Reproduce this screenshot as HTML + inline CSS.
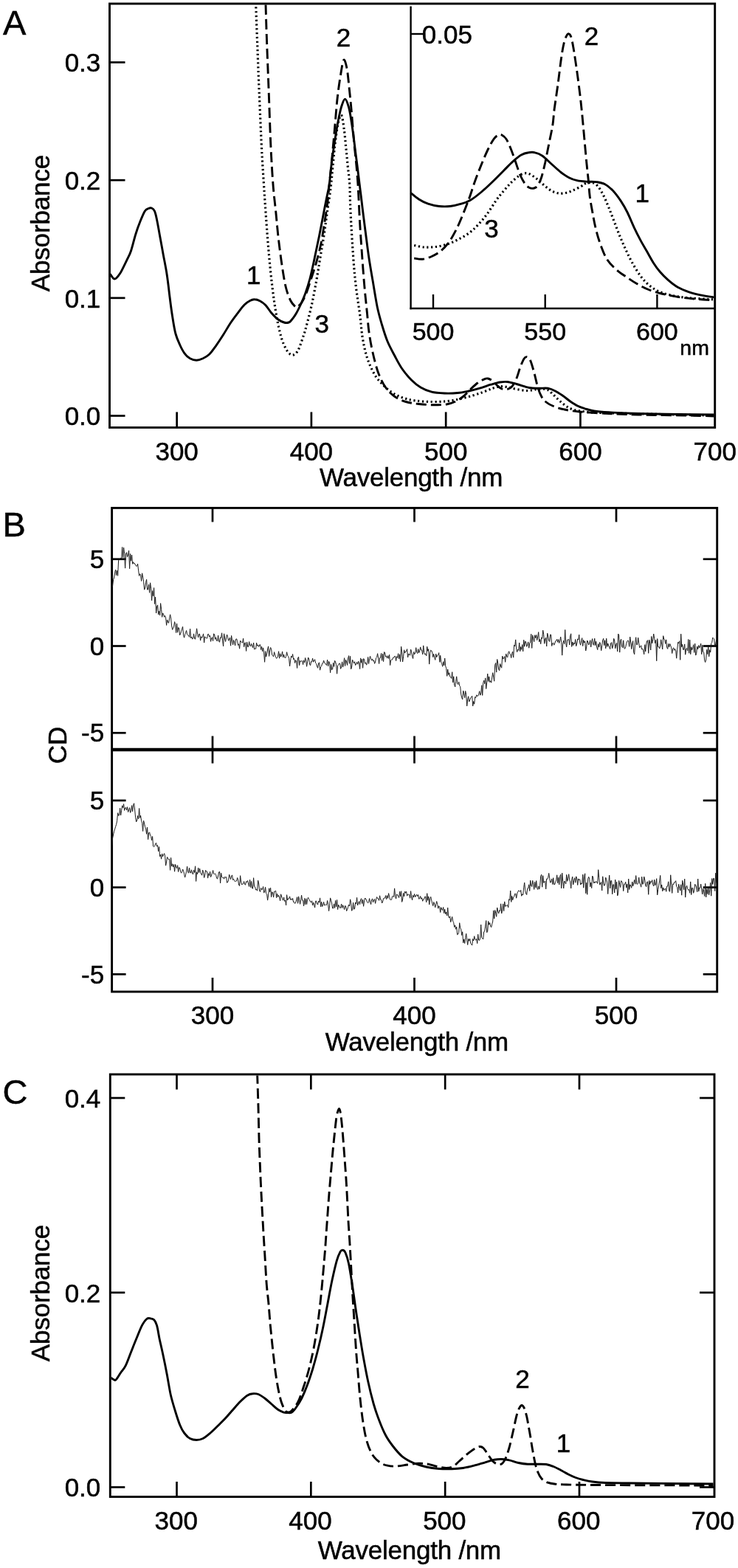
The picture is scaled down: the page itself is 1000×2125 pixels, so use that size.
<!DOCTYPE html>
<html lang="en"><head><meta charset="utf-8"><title>Figure</title>
<style>html,body{margin:0;padding:0;background:#fff}svg{display:block}</style></head>
<body>
<svg width="1000" height="2125" viewBox="0 0 1000 2125" font-family="Liberation Sans, Arial, sans-serif" fill="#000" stroke="none">
<rect width="1000" height="2125" fill="#fff"/>
<g stroke="#000" stroke-linecap="butt">
<rect x="148.5" y="5.0" width="820.2" height="574.4" fill="none" stroke-width="2.9"/>
<line x1="148.5" y1="563.5" x2="169.5" y2="563.5" stroke-width="2.7" />
<line x1="148.5" y1="403.8333333333333" x2="169.5" y2="403.8333333333333" stroke-width="2.7" />
<line x1="148.5" y1="244.16666666666663" x2="169.5" y2="244.16666666666663" stroke-width="2.7" />
<line x1="148.5" y1="84.5" x2="169.5" y2="84.5" stroke-width="2.7" />
<line x1="239.63333333333333" y1="579.4" x2="239.63333333333333" y2="558.4" stroke-width="2.7" />
<line x1="421.9" y1="579.4" x2="421.9" y2="558.4" stroke-width="2.7" />
<line x1="604.1666666666667" y1="579.4" x2="604.1666666666667" y2="558.4" stroke-width="2.7" />
<line x1="786.4333333333333" y1="579.4" x2="786.4333333333333" y2="558.4" stroke-width="2.7" />
<line x1="556.6" y1="8.4" x2="556.6" y2="419.2" stroke-width="2.4" />
<line x1="555.4" y1="418.0" x2="968.7" y2="418.0" stroke-width="2.4" />
<line x1="556.6" y1="46" x2="573.6" y2="46" stroke-width="2.4" />
<line x1="587.0" y1="418.0" x2="587.0" y2="399.0" stroke-width="2.4" />
<line x1="738.7" y1="418.0" x2="738.7" y2="399.0" stroke-width="2.4" />
<line x1="890.4" y1="418.0" x2="890.4" y2="399.0" stroke-width="2.4" />
</g>
<text x="4" y="46.5" font-size="47" text-anchor="start" stroke="#000" stroke-width="0.5" >A</text>
<text x="136.3" y="576.2" font-size="35" text-anchor="end" stroke="#000" stroke-width="0.5" >0.0</text>
<text x="136.3" y="416.5333333333333" font-size="35" text-anchor="end" stroke="#000" stroke-width="0.5" >0.1</text>
<text x="136.3" y="256.8666666666666" font-size="35" text-anchor="end" stroke="#000" stroke-width="0.5" >0.2</text>
<text x="136.3" y="97.2" font-size="35" text-anchor="end" stroke="#000" stroke-width="0.5" >0.3</text>
<text x="239.63333333333333" y="624" font-size="35" text-anchor="middle" stroke="#000" stroke-width="0.5" >300</text>
<text x="421.9" y="624" font-size="35" text-anchor="middle" stroke="#000" stroke-width="0.5" >400</text>
<text x="604.1666666666667" y="624" font-size="35" text-anchor="middle" stroke="#000" stroke-width="0.5" >500</text>
<text x="786.4333333333333" y="624" font-size="35" text-anchor="middle" stroke="#000" stroke-width="0.5" >600</text>
<text x="968.7" y="624" font-size="35" text-anchor="middle" stroke="#000" stroke-width="0.5" >700</text>
<text x="557.2" y="659" font-size="35" text-anchor="middle" textLength="248.5" lengthAdjust="spacing" stroke="#000" stroke-width="0.5" >Wavelength /nm</text>
<text transform="translate(67,302.5) rotate(-90)" font-size="35" text-anchor="middle" textLength="185.6" lengthAdjust="spacing" stroke="#000" stroke-width="0.5">Absorbance</text>
<text x="571.8" y="58.8" font-size="35" text-anchor="start" stroke="#000" stroke-width="0.5" >0.05</text>
<text x="587.0" y="461" font-size="34" text-anchor="middle" stroke="#000" stroke-width="0.5" >500</text>
<text x="738.7" y="461" font-size="34" text-anchor="middle" stroke="#000" stroke-width="0.5" >550</text>
<text x="890.4" y="461" font-size="34" text-anchor="middle" stroke="#000" stroke-width="0.5" >600</text>
<text x="921.3" y="481.4" font-size="28.5" text-anchor="start" stroke="#000" stroke-width="0.5" >nm</text>
<text x="343.8" y="385" font-size="35" text-anchor="middle" stroke="#000" stroke-width="0.5" >1</text>
<text x="465.6" y="62.5" font-size="35" text-anchor="middle" stroke="#000" stroke-width="0.5" >2</text>
<text x="436.3" y="451.3" font-size="35" text-anchor="middle" stroke="#000" stroke-width="0.5" >3</text>
<text x="870.2" y="273.7" font-size="35" text-anchor="middle" stroke="#000" stroke-width="0.5" >1</text>
<text x="801.5" y="60.8" font-size="35" text-anchor="middle" stroke="#000" stroke-width="0.5" >2</text>
<text x="665.9" y="322" font-size="35" text-anchor="middle" stroke="#000" stroke-width="0.5" >3</text>
<g stroke="#000" stroke-linecap="butt">
<rect x="151.6" y="688.4" width="820.1" height="655.6" fill="none" stroke-width="2.9"/>
<line x1="151.6" y1="1016.0" x2="971.7" y2="1016.0" stroke-width="4.6" />
<line x1="151.6" y1="993.25" x2="170.6" y2="993.25" stroke-width="2.7" />
<line x1="971.7" y1="993.25" x2="952.7" y2="993.25" stroke-width="2.7" />
<line x1="151.6" y1="1320.35" x2="170.6" y2="1320.35" stroke-width="2.7" />
<line x1="971.7" y1="1320.35" x2="952.7" y2="1320.35" stroke-width="2.7" />
<line x1="151.6" y1="875.5" x2="170.6" y2="875.5" stroke-width="2.7" />
<line x1="971.7" y1="875.5" x2="952.7" y2="875.5" stroke-width="2.7" />
<line x1="151.6" y1="1202.6" x2="170.6" y2="1202.6" stroke-width="2.7" />
<line x1="971.7" y1="1202.6" x2="952.7" y2="1202.6" stroke-width="2.7" />
<line x1="151.6" y1="757.75" x2="170.6" y2="757.75" stroke-width="2.7" />
<line x1="971.7" y1="757.75" x2="952.7" y2="757.75" stroke-width="2.7" />
<line x1="151.6" y1="1084.85" x2="170.6" y2="1084.85" stroke-width="2.7" />
<line x1="971.7" y1="1084.85" x2="952.7" y2="1084.85" stroke-width="2.7" />
<line x1="288.0" y1="688.4" x2="288.0" y2="707.4" stroke-width="2.7" />
<line x1="288.0" y1="997.5" x2="288.0" y2="1034.5" stroke-width="2.7" />
<line x1="288.0" y1="1344.0" x2="288.0" y2="1325.0" stroke-width="2.7" />
<line x1="561.5" y1="688.4" x2="561.5" y2="707.4" stroke-width="2.7" />
<line x1="561.5" y1="997.5" x2="561.5" y2="1034.5" stroke-width="2.7" />
<line x1="561.5" y1="1344.0" x2="561.5" y2="1325.0" stroke-width="2.7" />
<line x1="835.0" y1="688.4" x2="835.0" y2="707.4" stroke-width="2.7" />
<line x1="835.0" y1="997.5" x2="835.0" y2="1034.5" stroke-width="2.7" />
<line x1="835.0" y1="1344.0" x2="835.0" y2="1325.0" stroke-width="2.7" />
</g>
<text x="3.5" y="726.5" font-size="47" text-anchor="start" stroke="#000" stroke-width="0.5" >B</text>
<text x="141.2" y="769.95" font-size="35" text-anchor="end" stroke="#000" stroke-width="0.5" >5</text>
<text x="141.2" y="887.7" font-size="35" text-anchor="end" stroke="#000" stroke-width="0.5" >0</text>
<text x="141.2" y="1005.45" font-size="35" text-anchor="end" stroke="#000" stroke-width="0.5" >-5</text>
<text x="141.2" y="1097.05" font-size="35" text-anchor="end" stroke="#000" stroke-width="0.5" >5</text>
<text x="141.2" y="1214.8" font-size="35" text-anchor="end" stroke="#000" stroke-width="0.5" >0</text>
<text x="141.2" y="1332.55" font-size="35" text-anchor="end" stroke="#000" stroke-width="0.5" >-5</text>
<text x="288.0" y="1387.5" font-size="35" text-anchor="middle" stroke="#000" stroke-width="0.5" >300</text>
<text x="561.5" y="1387.5" font-size="35" text-anchor="middle" stroke="#000" stroke-width="0.5" >400</text>
<text x="835.0" y="1387.5" font-size="35" text-anchor="middle" stroke="#000" stroke-width="0.5" >500</text>
<text x="565" y="1423.5" font-size="35" text-anchor="middle" textLength="248.5" lengthAdjust="spacing" stroke="#000" stroke-width="0.5" >Wavelength /nm</text>
<text transform="translate(90,1010) rotate(-90)" font-size="35" text-anchor="middle" stroke="#000" stroke-width="0.5">CD</text>
<g stroke="#000" stroke-linecap="butt">
<rect x="149.3" y="1456.0" width="818.7" height="572.5" fill="none" stroke-width="2.9"/>
<line x1="149.3" y1="2015.5" x2="169.3" y2="2015.5" stroke-width="2.7" />
<line x1="968.0" y1="2015.5" x2="948.0" y2="2015.5" stroke-width="2.7" />
<line x1="149.3" y1="1751.75" x2="169.3" y2="1751.75" stroke-width="2.7" />
<line x1="968.0" y1="1751.75" x2="948.0" y2="1751.75" stroke-width="2.7" />
<line x1="149.3" y1="1488.0" x2="169.3" y2="1488.0" stroke-width="2.7" />
<line x1="968.0" y1="1488.0" x2="948.0" y2="1488.0" stroke-width="2.7" />
<line x1="239.5" y1="2028.5" x2="239.5" y2="2008.0" stroke-width="2.7" />
<line x1="239.5" y1="1456.0" x2="239.5" y2="1476.5" stroke-width="2.7" />
<line x1="421.33000000000004" y1="2028.5" x2="421.33000000000004" y2="2008.0" stroke-width="2.7" />
<line x1="421.33000000000004" y1="1456.0" x2="421.33000000000004" y2="1476.5" stroke-width="2.7" />
<line x1="603.1600000000001" y1="2028.5" x2="603.1600000000001" y2="2008.0" stroke-width="2.7" />
<line x1="603.1600000000001" y1="1456.0" x2="603.1600000000001" y2="1476.5" stroke-width="2.7" />
<line x1="784.99" y1="2028.5" x2="784.99" y2="2008.0" stroke-width="2.7" />
<line x1="784.99" y1="1456.0" x2="784.99" y2="1476.5" stroke-width="2.7" />
</g>
<text x="3.5" y="1495.5" font-size="47" text-anchor="start" stroke="#000" stroke-width="0.5" >C</text>
<text x="136.3" y="2028.4" font-size="35" text-anchor="end" stroke="#000" stroke-width="0.5" >0.0</text>
<text x="136.3" y="1764.65" font-size="35" text-anchor="end" stroke="#000" stroke-width="0.5" >0.2</text>
<text x="136.3" y="1500.9" font-size="35" text-anchor="end" stroke="#000" stroke-width="0.5" >0.4</text>
<text x="238.7" y="2072.7" font-size="35" text-anchor="middle" stroke="#000" stroke-width="0.5" >300</text>
<text x="420.53000000000003" y="2072.7" font-size="35" text-anchor="middle" stroke="#000" stroke-width="0.5" >400</text>
<text x="602.3600000000001" y="2072.7" font-size="35" text-anchor="middle" stroke="#000" stroke-width="0.5" >500</text>
<text x="784.19" y="2072.7" font-size="35" text-anchor="middle" stroke="#000" stroke-width="0.5" >600</text>
<text x="966.0200000000001" y="2072.7" font-size="35" text-anchor="middle" stroke="#000" stroke-width="0.5" >700</text>
<text x="555" y="2112.8" font-size="35" text-anchor="middle" textLength="248.5" lengthAdjust="spacing" stroke="#000" stroke-width="0.5" >Wavelength /nm</text>
<text transform="translate(67,1752.5) rotate(-90)" font-size="35" text-anchor="middle" textLength="185.6" lengthAdjust="spacing" stroke="#000" stroke-width="0.5">Absorbance</text>
<text x="707.9" y="1880.5" font-size="35" text-anchor="middle" stroke="#000" stroke-width="0.5" >2</text>
<text x="763.5" y="1968" font-size="35" text-anchor="middle" stroke="#000" stroke-width="0.5" >1</text>
<defs><clipPath id="ca"><rect x="150" y="6.5" width="817.5" height="571.5"/></clipPath></defs>
<g clip-path="url(#ca)">
<path d="M346.7,6.0C347.0,15.4 348.0,42.7 348.8,62.5C349.5,82.3 350.3,102.1 351.2,125.0C352.2,147.9 353.5,179.2 354.5,200.0C355.5,220.8 356.6,235.4 357.5,250.0C358.4,264.6 359.0,272.9 360.0,287.5C361.0,302.1 362.3,320.8 363.8,337.5C365.2,354.2 366.9,372.1 368.8,387.5C370.6,402.9 372.9,418.3 375.0,430.0C377.1,441.7 379.0,450.0 381.2,457.5C383.5,465.0 386.2,471.0 388.8,475.0C391.2,479.0 393.8,481.2 396.2,481.2C398.8,481.2 401.2,479.4 403.8,475.0C406.2,470.6 409.4,460.4 411.2,455.0C413.1,449.6 413.1,449.6 415.0,442.5C416.9,435.4 420.2,422.9 422.5,412.5C424.8,402.1 426.9,390.4 428.8,380.0C430.6,369.6 432.1,360.0 433.8,350.0C435.4,340.0 437.2,330.0 438.8,320.0C440.3,310.0 441.5,300.8 443.0,290.0C444.5,279.2 446.7,265.8 448.0,255.0C449.3,244.2 450.0,235.0 451.0,225.0C452.0,215.0 452.8,204.5 454.0,195.0C455.2,185.5 456.6,174.5 458.0,168.0C459.4,161.5 461.1,154.8 462.5,156.0C463.9,157.2 465.2,167.7 466.2,175.0C467.3,182.3 467.9,191.7 468.8,200.0C469.6,208.3 470.4,216.7 471.2,225.0C472.1,233.3 473.1,239.6 473.8,250.0C474.4,260.4 474.2,270.8 475.0,287.5C475.8,304.2 477.5,332.9 478.8,350.0C480.0,367.1 481.0,377.5 482.5,390.0C484.0,402.5 486.0,413.8 487.5,425.0C489.0,436.2 489.6,447.5 491.2,457.5C492.9,467.5 494.8,476.7 497.5,485.0C500.2,493.3 504.2,501.7 507.5,507.5C510.8,513.3 513.8,516.0 517.5,520.0C521.2,524.0 525.4,528.1 530.0,531.2C534.6,534.4 539.6,536.8 545.0,538.8C550.4,540.7 555.8,542.0 562.5,543.0C569.2,544.0 577.9,544.4 585.0,544.5C592.1,544.6 598.8,544.4 605.0,543.8C611.2,543.1 616.7,542.0 622.5,540.8C628.3,539.5 634.6,537.8 640.0,536.2C645.4,534.7 650.4,532.9 655.0,531.2C659.6,529.6 663.8,527.5 667.5,526.2C671.2,525.0 674.2,524.0 677.5,523.8C680.8,523.5 683.8,523.9 687.5,524.5C691.2,525.1 695.4,526.7 700.0,527.5C704.6,528.3 710.4,529.5 715.0,529.5C719.6,529.5 723.3,527.8 727.5,527.5C731.7,527.2 736.7,526.7 740.0,527.5C743.3,528.3 744.8,530.2 747.5,532.5C750.2,534.8 753.3,538.5 756.2,541.2C759.2,544.0 761.9,546.5 765.0,548.8C768.1,551.0 770.8,553.0 775.0,554.5C779.2,556.0 783.3,556.7 790.0,557.5C796.7,558.3 790.0,558.7 815.0,559.5C840.0,560.3 914.4,561.9 940.0,562.5C965.6,563.1 963.9,562.9 968.7,563.0" fill="none" stroke="#000" stroke-width="3.2" stroke-dasharray="2.2 3.58" stroke-linejoin="round" stroke-dashoffset="2.4"/>
<path d="M360.0,6.0C360.3,15.4 361.0,42.7 361.8,62.5C362.5,82.3 363.4,102.1 364.2,125.0C365.1,147.9 366.0,179.2 367.0,200.0C368.0,220.8 368.9,235.4 370.0,250.0C371.1,264.6 372.5,275.0 373.8,287.5C375.0,300.0 376.0,312.5 377.5,325.0C379.0,337.5 380.8,351.7 382.5,362.5C384.2,373.3 385.6,382.5 387.5,390.0C389.4,397.5 391.7,403.2 393.8,407.5C395.8,411.8 398.5,414.1 400.0,415.5C401.5,416.9 401.0,416.9 402.5,416.0C404.0,415.1 406.7,413.1 408.8,410.0C410.8,406.9 412.7,403.3 415.0,397.5C417.3,391.7 420.2,382.1 422.5,375.0C424.8,367.9 426.7,362.5 428.8,355.0C430.8,347.5 433.1,339.2 435.0,330.0C436.9,320.8 438.5,309.2 440.0,300.0C441.5,290.8 442.7,283.3 443.8,275.0C444.8,266.7 445.0,262.5 446.2,250.0C447.5,237.5 449.9,214.6 451.2,200.0C452.6,185.4 453.5,174.2 454.5,162.5C455.5,150.8 456.3,140.4 457.5,130.0C458.7,119.6 460.4,108.1 461.8,100.0C463.1,91.9 464.4,82.5 465.8,81.2C467.1,80.0 468.8,86.5 470.0,92.5C471.2,98.5 472.0,107.9 473.0,117.5C474.0,127.1 475.2,137.9 476.2,150.0C477.3,162.1 478.4,177.5 479.5,190.0C480.6,202.5 482.1,215.0 483.0,225.0C483.9,235.0 484.2,237.5 485.0,250.0C485.8,262.5 486.7,285.4 487.5,300.0C488.3,314.6 489.0,322.9 490.0,337.5C491.0,352.1 492.5,372.9 493.8,387.5C495.0,402.1 496.5,414.6 497.5,425.0C498.5,435.4 498.8,441.2 500.0,450.0C501.2,458.8 502.9,468.3 505.0,477.5C507.1,486.7 509.6,497.1 512.5,505.0C515.4,512.9 518.8,519.6 522.5,525.0C526.2,530.4 530.4,534.2 535.0,537.5C539.6,540.8 544.6,542.8 550.0,544.5C555.4,546.2 561.2,546.8 567.5,547.5C573.8,548.2 581.2,548.7 587.5,548.8C593.8,548.8 600.2,548.7 605.0,548.0C609.8,547.3 612.5,546.2 616.2,544.5C620.0,542.8 624.0,540.3 627.5,537.5C631.0,534.7 634.2,530.6 637.5,527.5C640.8,524.4 644.4,521.0 647.5,518.8C650.6,516.5 654.0,514.7 656.2,513.8C658.5,512.8 659.4,512.6 661.2,513.0C663.1,513.4 665.4,514.7 667.5,516.2C669.6,517.8 671.7,520.7 673.8,522.5C675.8,524.3 677.7,526.2 680.0,527.0C682.3,527.8 685.2,528.0 687.5,527.5C689.8,527.0 691.7,526.2 693.8,523.8C695.8,521.2 698.1,516.9 700.0,512.5C701.9,508.1 703.3,501.9 705.0,497.5C706.7,493.1 708.5,488.5 710.0,486.2C711.5,484.0 712.8,483.3 714.2,483.8C715.7,484.2 717.2,485.2 718.8,488.8C720.3,492.3 722.1,499.0 723.8,505.0C725.4,511.0 727.1,519.6 728.8,525.0C730.4,530.4 731.9,534.2 733.8,537.5C735.6,540.8 737.3,542.8 740.0,545.0C742.7,547.2 745.8,548.8 750.0,550.5C754.2,552.2 759.2,553.8 765.0,555.0C770.8,556.2 776.7,557.2 785.0,558.0C793.3,558.8 801.7,559.3 815.0,560.0C828.3,560.7 844.2,561.5 865.0,562.0C885.8,562.5 922.7,562.9 940.0,563.2C957.3,563.6 963.9,563.9 968.7,564.0" fill="none" stroke="#000" stroke-width="2.9" stroke-dasharray="14 6" stroke-linejoin="round" />
<path d="M148.5,371.0C148.8,371.2 149.1,371.4 150.0,372.5C150.9,373.6 152.5,376.8 153.8,377.5C155.0,378.2 155.8,378.5 157.5,377.0C159.2,375.5 161.2,373.0 163.8,368.8C166.2,364.5 170.2,356.0 172.5,351.2C174.8,346.5 175.6,345.6 177.5,340.0C179.4,334.4 181.7,324.2 183.8,317.5C185.8,310.8 187.9,305.2 190.0,300.0C192.1,294.8 194.4,289.2 196.2,286.2C198.1,283.3 199.7,283.2 201.2,282.5C202.8,281.8 204.1,281.4 205.5,282.0C206.9,282.6 208.3,283.7 209.5,286.2C210.7,288.8 211.4,292.3 212.5,297.5C213.6,302.7 214.8,309.6 216.2,317.5C217.7,325.4 219.6,335.8 221.2,345.0C222.9,354.2 224.8,362.9 226.2,372.5C227.7,382.1 228.8,392.9 230.0,402.5C231.2,412.1 232.4,421.7 233.8,430.0C235.1,438.3 236.3,446.2 238.0,452.5C239.7,458.8 241.8,463.1 243.8,467.5C245.8,471.9 247.7,475.7 250.0,478.8C252.3,481.8 254.8,484.2 257.5,485.8C260.2,487.3 263.3,488.2 266.2,488.2C269.2,488.2 272.1,487.1 275.0,485.8C277.9,484.4 280.8,482.8 283.8,480.0C286.7,477.2 289.4,473.1 292.5,468.8C295.6,464.4 299.2,459.0 302.5,453.8C305.8,448.5 309.2,442.5 312.5,437.5C315.8,432.5 319.4,427.8 322.5,423.8C325.6,419.7 328.5,415.7 331.2,413.0C334.0,410.3 336.5,408.7 338.8,407.5C341.0,406.3 342.7,405.7 345.0,405.8C347.3,405.8 350.0,406.7 352.5,408.0C355.0,409.3 357.5,411.1 360.0,413.8C362.5,416.4 364.8,420.6 367.5,423.8C370.2,426.9 373.3,430.3 376.2,432.5C379.2,434.7 382.5,436.2 385.0,437.0C387.5,437.8 389.6,437.5 391.2,437.0C392.9,436.5 393.3,435.8 395.0,433.8C396.7,431.8 399.2,428.5 401.2,425.0C403.3,421.5 405.4,417.1 407.5,412.5C409.6,407.9 411.7,403.3 413.8,397.5C415.8,391.7 417.9,385.4 420.0,377.5C422.1,369.6 424.2,359.6 426.2,350.0C428.3,340.4 430.4,330.4 432.5,320.0C434.6,309.6 436.9,297.1 438.8,287.5C440.6,277.9 442.5,268.8 443.8,262.5C445.0,256.2 445.3,257.1 446.2,250.0C447.2,242.9 448.2,230.0 449.5,220.0C450.8,210.0 452.3,199.2 453.8,190.0C455.2,180.8 456.5,172.5 458.0,165.0C459.5,157.5 460.9,150.1 462.5,145.0C464.1,139.9 465.8,134.2 467.5,134.2C469.2,134.2 471.0,139.9 472.5,145.0C474.0,150.1 475.0,157.1 476.2,165.0C477.5,172.9 478.8,182.9 480.0,192.5C481.2,202.1 482.5,212.9 483.8,222.5C485.0,232.1 486.0,240.0 487.2,250.0C488.5,260.0 490.0,272.1 491.2,282.5C492.5,292.9 493.5,301.2 495.0,312.5C496.5,323.8 498.3,338.8 500.0,350.0C501.7,361.2 503.1,369.0 505.0,380.0C506.9,391.0 509.2,406.0 511.2,416.0C513.3,426.0 515.2,432.2 517.5,440.0C519.8,447.8 522.1,455.4 525.0,462.5C527.9,469.6 531.7,476.2 535.0,482.5C538.3,488.8 541.2,494.6 545.0,500.0C548.8,505.4 553.3,510.8 557.5,515.0C561.7,519.2 565.4,522.3 570.0,525.0C574.6,527.7 579.6,529.9 585.0,531.2C590.4,532.6 596.7,532.8 602.5,533.0C608.3,533.2 614.6,533.0 620.0,532.5C625.4,532.0 630.0,531.0 635.0,530.0C640.0,529.0 645.0,527.7 650.0,526.2C655.0,524.8 660.4,522.6 665.0,521.2C669.6,519.9 673.8,518.6 677.5,518.0C681.2,517.4 683.8,517.1 687.5,517.5C691.2,517.9 695.0,519.2 700.0,520.5C705.0,521.8 712.5,524.5 717.5,525.5C722.5,526.5 725.8,526.1 730.0,526.2C734.2,526.4 738.8,525.6 742.5,526.2C746.2,526.9 749.2,528.3 752.5,530.0C755.8,531.7 759.2,534.0 762.5,536.2C765.8,538.5 769.2,541.5 772.5,543.8C775.8,546.0 779.2,548.3 782.5,550.0C785.8,551.7 788.8,552.6 792.5,553.8C796.2,554.9 799.6,556.2 805.0,557.0C810.4,557.8 815.0,558.2 825.0,558.8C835.0,559.3 845.8,560.0 865.0,560.5C884.2,561.0 922.7,561.5 940.0,561.8C957.3,562.0 963.9,562.0 968.7,562.0" fill="none" stroke="#000" stroke-width="2.9" stroke-linejoin="round" />
<path d="M561.2,332.5C563.5,332.9 570.2,334.7 575.0,335.0C579.8,335.3 585.0,335.1 590.0,334.5C595.0,333.9 600.0,332.8 605.0,331.2C610.0,329.7 615.0,327.5 620.0,325.0C625.0,322.5 630.4,319.6 635.0,316.2C639.6,312.9 643.3,309.4 647.5,305.0C651.7,300.6 655.8,295.6 660.0,290.0C664.2,284.4 668.8,276.5 672.5,271.2C676.2,266.0 679.2,262.7 682.5,258.8C685.8,254.8 689.2,250.8 692.5,247.5C695.8,244.2 699.6,240.8 702.5,238.8C705.4,236.7 707.5,235.5 710.0,235.0C712.5,234.5 714.6,234.5 717.5,235.8C720.4,237.0 724.2,239.9 727.5,242.5C730.8,245.1 734.2,248.5 737.5,251.2C740.8,254.0 744.2,257.0 747.5,258.8C750.8,260.5 754.2,261.6 757.5,262.0C760.8,262.4 764.2,262.0 767.5,261.2C770.8,260.5 774.2,259.0 777.5,257.5C780.8,256.0 784.9,253.9 787.5,252.5C790.1,251.1 790.6,249.7 793.0,248.8C795.4,247.9 799.0,246.8 801.8,247.3C804.5,247.8 806.9,248.9 809.5,251.7C812.1,254.4 814.6,258.9 817.2,263.8C819.8,268.8 822.3,275.2 824.9,281.4C827.5,287.6 830.0,294.6 832.6,301.2C835.2,307.8 837.7,314.8 840.3,321.0C842.9,327.2 845.2,332.7 848.0,338.6C850.8,344.5 853.5,350.3 856.8,356.2C860.1,362.1 864.1,368.9 867.8,373.8C871.5,378.8 874.8,382.4 878.8,385.9C882.8,389.4 886.9,392.3 892.0,394.7C897.1,397.1 903.0,398.7 909.6,400.2C916.2,401.7 921.8,402.5 931.6,403.5C941.5,404.5 962.5,405.6 968.7,406.0" fill="none" stroke="#000" stroke-width="3.2" stroke-dasharray="2.2 3.58" stroke-linejoin="round" />
<path d="M561.2,350.0C563.1,350.2 568.5,351.7 572.5,351.2C576.5,350.8 580.8,349.4 585.0,347.5C589.2,345.6 593.5,343.3 597.5,340.0C601.5,336.7 605.2,332.5 608.8,327.5C612.3,322.5 615.6,316.2 618.8,310.0C621.9,303.8 624.6,297.1 627.5,290.0C630.4,282.9 633.5,275.0 636.2,267.5C639.0,260.0 641.0,252.5 643.8,245.0C646.5,237.5 649.6,229.6 652.5,222.5C655.4,215.4 658.5,208.1 661.2,202.5C664.0,196.9 666.5,192.0 668.8,188.8C671.0,185.5 673.1,184.0 675.0,183.0C676.9,182.0 678.1,182.0 680.0,183.0C681.9,184.0 684.2,185.5 686.2,188.8C688.3,192.0 690.4,197.3 692.5,202.5C694.6,207.7 696.7,214.2 698.8,220.0C700.8,225.8 702.9,232.7 705.0,237.5C707.1,242.3 709.2,245.9 711.2,248.8C713.3,251.6 715.4,253.5 717.5,254.5C719.6,255.5 721.9,255.5 723.8,255.0C725.6,254.5 727.1,253.8 728.8,251.2C730.4,248.8 732.1,245.2 733.8,240.0C735.4,234.8 737.1,227.5 738.8,220.0C740.4,212.5 742.1,203.3 743.8,195.0C745.4,186.7 747.5,177.9 748.8,170.0C750.0,162.1 750.0,157.1 751.2,147.5C752.5,137.9 754.8,123.3 756.2,112.5C757.7,101.7 758.8,91.2 760.0,82.5C761.2,73.8 762.5,65.6 763.8,60.0C765.0,54.4 766.3,51.1 767.5,48.8C768.7,46.4 769.7,45.5 770.8,45.8C771.8,46.0 772.7,46.8 773.8,50.0C774.8,53.2 775.8,57.9 777.0,65.0C778.2,72.1 779.8,82.5 781.2,92.5C782.7,102.5 784.2,114.6 785.5,125.0C786.8,135.4 787.7,144.2 788.8,155.0C789.8,165.8 791.0,178.8 792.0,190.0C793.0,201.2 794.1,213.1 795.0,222.5C795.9,231.9 796.8,239.0 797.5,246.2C798.2,253.5 798.3,259.0 799.2,266.0C800.1,273.0 801.5,280.7 802.9,288.0C804.2,295.3 805.5,302.7 807.3,310.0C809.1,317.3 811.3,325.0 813.9,332.0C816.5,339.0 819.2,346.3 822.7,351.8C826.2,357.3 830.6,361.1 834.8,365.0C839.0,368.9 843.2,371.6 848.0,374.9C852.8,378.2 858.3,381.9 863.4,384.8C868.5,387.7 873.3,390.3 878.8,392.5C884.3,394.7 889.8,396.4 896.4,398.0C903.0,399.6 911.1,401.2 918.4,402.4C925.7,403.6 932.0,404.2 940.4,405.0C948.8,405.8 964.0,406.7 968.7,407.0" fill="none" stroke="#000" stroke-width="2.9" stroke-dasharray="14 6" stroke-linejoin="round" />
<path d="M556.6,261.5C558.4,262.9 563.6,267.5 567.5,270.0C571.4,272.5 575.4,274.7 580.0,276.2C584.6,277.8 590.0,279.0 595.0,279.5C600.0,280.0 605.0,280.0 610.0,279.5C615.0,279.0 620.4,277.6 625.0,276.2C629.6,274.9 632.9,274.0 637.5,271.2C642.1,268.5 647.5,264.2 652.5,260.0C657.5,255.8 662.5,251.0 667.5,246.2C672.5,241.5 677.9,235.8 682.5,231.2C687.1,226.7 691.0,222.3 695.0,218.8C699.0,215.2 702.7,212.0 706.2,210.0C709.8,208.0 713.1,207.3 716.2,206.8C719.4,206.2 721.9,206.0 725.0,206.8C728.1,207.5 731.2,208.6 735.0,211.2C738.8,213.9 743.3,218.8 747.5,222.5C751.7,226.2 756.1,230.5 760.0,233.5C763.9,236.5 767.3,238.8 771.0,240.7C774.7,242.6 778.0,243.8 782.0,244.7C786.0,245.6 790.8,245.9 795.2,246.2C799.6,246.5 804.4,246.0 808.4,246.6C812.4,247.2 815.7,247.6 819.4,249.5C823.1,251.4 826.7,254.5 830.4,258.3C834.1,262.2 838.1,267.7 841.4,272.6C844.7,277.6 847.3,282.1 850.2,288.0C853.1,293.9 856.1,301.6 859.0,307.8C861.9,314.0 864.9,319.9 867.8,325.4C870.7,330.9 873.7,335.7 876.6,340.8C879.5,345.9 882.5,351.6 885.4,356.2C888.3,360.8 890.9,364.4 894.2,368.3C897.5,372.2 901.2,375.8 905.2,379.3C909.2,382.8 913.6,386.4 918.4,389.2C923.2,391.9 928.7,394.0 933.8,395.8C938.9,397.6 943.4,398.6 949.2,399.8C955.0,401.0 965.5,402.5 968.7,403.0" fill="none" stroke="#000" stroke-width="2.9" stroke-linejoin="round" />
</g>
<defs><clipPath id="cc"><rect x="150.8" y="1457.5" width="815.7" height="569.5"/></clipPath><clipPath id="cb"><rect x="151.6" y="689.8" width="820.1" height="652.8"/></clipPath></defs>
<g clip-path="url(#cc)">
<path d="M348.6,1455.0C348.8,1462.5 349.6,1484.2 350.0,1500.0C350.4,1515.8 350.7,1533.3 351.2,1550.0C351.8,1566.7 352.5,1583.3 353.2,1600.0C354.0,1616.7 354.8,1633.3 355.8,1650.0C356.7,1666.7 357.8,1685.0 358.8,1700.0C359.7,1715.0 360.4,1729.2 361.2,1740.0C362.1,1750.8 362.9,1755.8 363.8,1765.0C364.6,1774.2 365.3,1784.6 366.2,1795.0C367.2,1805.4 368.4,1817.1 369.5,1827.5C370.6,1837.9 371.8,1848.3 373.0,1857.5C374.2,1866.7 375.6,1875.4 377.0,1882.5C378.4,1889.6 379.7,1895.2 381.2,1900.0C382.8,1904.8 384.8,1908.9 386.2,1911.2C387.7,1913.6 388.5,1913.9 390.0,1914.0C391.5,1914.1 392.7,1914.3 395.0,1912.0C397.3,1909.7 401.0,1905.3 403.8,1900.0C406.5,1894.7 408.8,1887.5 411.2,1880.0C413.8,1872.5 416.5,1863.8 418.8,1855.0C421.0,1846.2 423.1,1837.1 425.0,1827.5C426.9,1817.9 428.5,1807.5 430.0,1797.5C431.5,1787.5 432.6,1777.9 433.8,1767.5C434.9,1757.1 436.0,1746.2 437.0,1735.0C438.0,1723.8 439.2,1709.2 440.0,1700.0C440.8,1690.8 440.9,1688.8 441.5,1680.0C442.1,1671.2 443.0,1658.3 443.8,1647.5C444.5,1636.7 445.4,1625.4 446.2,1615.0C447.1,1604.6 447.9,1594.6 448.8,1585.0C449.6,1575.4 450.4,1566.2 451.2,1557.5C452.1,1548.8 452.9,1540.0 453.8,1532.5C454.6,1525.0 455.3,1517.5 456.2,1512.5C457.2,1507.5 458.5,1502.5 459.5,1502.5C460.5,1502.5 461.2,1506.7 462.0,1512.5C462.8,1518.3 463.7,1528.3 464.5,1537.5C465.3,1546.7 466.0,1557.9 466.8,1567.5C467.5,1577.1 468.1,1585.4 468.8,1595.0C469.4,1604.6 470.0,1615.0 470.5,1625.0C471.0,1635.0 471.5,1645.4 472.0,1655.0C472.5,1664.6 473.2,1672.9 473.8,1682.5C474.3,1692.1 474.9,1701.2 475.5,1712.5C476.1,1723.8 476.8,1737.1 477.5,1750.0C478.2,1762.9 479.2,1776.7 480.0,1790.0C480.8,1803.3 481.7,1818.3 482.5,1830.0C483.3,1841.7 484.2,1850.0 485.0,1860.0C485.8,1870.0 486.5,1879.6 487.5,1890.0C488.5,1900.4 489.8,1912.5 491.2,1922.5C492.7,1932.5 494.2,1942.1 496.2,1950.0C498.3,1957.9 500.8,1964.8 503.8,1970.0C506.7,1975.2 510.2,1978.5 513.8,1981.2C517.3,1984.0 521.0,1985.3 525.0,1986.2C529.0,1987.2 532.9,1987.2 537.5,1987.0C542.1,1986.8 547.5,1985.6 552.5,1985.0C557.5,1984.4 562.9,1983.4 567.5,1983.2C572.1,1983.1 575.8,1983.5 580.0,1984.2C584.2,1985.0 588.3,1986.6 592.5,1987.5C596.7,1988.4 601.5,1989.5 605.0,1989.5C608.5,1989.5 610.8,1989.1 613.8,1987.5C616.7,1985.9 619.4,1982.7 622.5,1980.0C625.6,1977.3 629.2,1974.0 632.5,1971.2C635.8,1968.5 639.6,1965.5 642.5,1963.8C645.4,1962.0 647.9,1960.7 650.0,1960.5C652.1,1960.3 653.1,1960.7 655.0,1962.5C656.9,1964.3 659.2,1968.3 661.2,1971.2C663.3,1974.2 665.4,1977.8 667.5,1980.0C669.6,1982.2 671.7,1983.6 673.8,1984.2C675.8,1984.9 678.1,1985.0 680.0,1983.8C681.9,1982.5 683.3,1980.1 685.0,1976.5C686.7,1972.9 688.3,1967.9 690.0,1962.0C691.7,1956.1 693.3,1948.2 695.0,1941.0C696.7,1933.8 698.5,1924.0 700.0,1918.5C701.5,1913.0 702.5,1910.3 703.8,1908.0C705.0,1905.7 706.1,1904.4 707.2,1904.5C708.3,1904.6 709.4,1906.2 710.5,1908.8C711.6,1911.3 712.6,1914.8 713.8,1920.0C714.9,1925.2 716.2,1932.9 717.5,1940.0C718.8,1947.1 720.0,1955.4 721.2,1962.5C722.5,1969.6 723.8,1977.1 725.0,1982.5C726.2,1987.9 727.3,1991.5 728.8,1995.0C730.2,1998.5 731.7,2001.5 733.8,2003.8C735.8,2006.0 738.1,2007.5 741.2,2008.8C744.4,2010.0 748.1,2010.7 752.5,2011.2C756.9,2011.8 758.8,2011.8 767.5,2012.0C776.2,2012.2 777.9,2012.3 805.0,2012.5C832.1,2012.7 902.8,2012.8 930.0,2013.0C957.2,2013.2 961.7,2013.4 968.0,2013.5" fill="none" stroke="#000" stroke-width="2.9" stroke-dasharray="14 6" stroke-linejoin="round" />
<path d="M149.3,1866.5C149.9,1866.9 151.7,1868.4 153.0,1869.0C154.3,1869.6 155.2,1871.5 157.0,1870.0C158.8,1868.5 161.6,1863.1 163.8,1860.0C165.9,1856.9 167.7,1855.8 170.0,1851.2C172.3,1846.7 175.0,1838.8 177.5,1832.5C180.0,1826.2 182.5,1819.8 185.0,1813.8C187.5,1807.7 190.2,1800.6 192.5,1796.2C194.8,1791.9 196.9,1789.1 198.8,1787.5C200.6,1785.9 202.1,1786.5 203.8,1786.8C205.4,1787.0 207.3,1787.2 208.8,1788.8C210.2,1790.3 211.2,1791.9 212.5,1796.2C213.8,1800.6 214.8,1808.1 216.2,1815.0C217.7,1821.9 219.6,1829.6 221.2,1837.5C222.9,1845.4 224.6,1853.8 226.2,1862.5C227.9,1871.2 229.4,1881.7 231.2,1890.0C233.1,1898.3 235.4,1905.6 237.5,1912.5C239.6,1919.4 241.7,1926.2 243.8,1931.2C245.8,1936.2 247.7,1939.5 250.0,1942.5C252.3,1945.5 254.8,1948.0 257.5,1949.5C260.2,1951.0 263.3,1951.5 266.2,1951.5C269.2,1951.5 271.9,1951.1 275.0,1949.5C278.1,1947.9 281.7,1944.8 285.0,1942.0C288.3,1939.2 291.7,1935.8 295.0,1932.5C298.3,1929.2 301.7,1926.0 305.0,1922.5C308.3,1919.0 311.7,1915.0 315.0,1911.2C318.3,1907.5 321.7,1903.3 325.0,1900.0C328.3,1896.7 332.1,1893.1 335.0,1891.2C337.9,1889.4 340.0,1889.0 342.5,1888.8C345.0,1888.5 347.3,1888.5 350.0,1889.5C352.7,1890.5 355.8,1892.8 358.8,1895.0C361.7,1897.2 364.6,1900.0 367.5,1902.5C370.4,1905.0 373.5,1908.1 376.2,1910.0C379.0,1911.9 381.7,1913.0 383.8,1913.8C385.8,1914.5 386.9,1914.4 388.8,1914.5C390.6,1914.6 392.9,1915.4 395.0,1914.2C397.1,1913.1 399.0,1910.7 401.2,1907.5C403.5,1904.3 406.2,1900.0 408.8,1895.0C411.2,1890.0 413.8,1884.2 416.2,1877.5C418.8,1870.8 421.2,1863.3 423.8,1855.0C426.2,1846.7 429.0,1836.7 431.2,1827.5C433.5,1818.3 435.4,1810.0 437.5,1800.0C439.6,1790.0 441.7,1778.3 443.8,1767.5C445.8,1756.7 447.9,1744.8 450.0,1735.0C452.1,1725.2 454.4,1715.2 456.2,1708.8C458.1,1702.3 459.9,1698.7 461.2,1696.2C462.6,1693.8 463.4,1694.0 464.5,1694.2C465.6,1694.5 466.7,1694.5 468.0,1697.5C469.3,1700.5 470.9,1705.0 472.5,1712.5C474.1,1720.0 475.8,1731.7 477.5,1742.5C479.2,1753.3 480.8,1766.2 482.5,1777.5C484.2,1788.8 485.8,1799.6 487.5,1810.0C489.2,1820.4 490.6,1829.6 492.5,1840.0C494.4,1850.4 496.5,1862.1 498.8,1872.5C501.0,1882.9 503.8,1893.8 506.2,1902.5C508.8,1911.2 511.0,1917.9 513.8,1925.0C516.5,1932.1 519.4,1939.2 522.5,1945.0C525.6,1950.8 528.8,1955.2 532.5,1960.0C536.2,1964.8 540.4,1970.0 545.0,1973.8C549.6,1977.5 554.6,1980.1 560.0,1982.5C565.4,1984.9 571.7,1986.7 577.5,1988.0C583.3,1989.3 589.2,1990.0 595.0,1990.5C600.8,1991.0 607.1,1990.9 612.5,1990.8C617.9,1990.6 622.5,1990.2 627.5,1989.5C632.5,1988.8 637.5,1987.5 642.5,1986.2C647.5,1985.0 652.9,1983.1 657.5,1981.8C662.1,1980.4 666.2,1979.0 670.0,1978.2C673.8,1977.5 676.7,1977.4 680.0,1977.5C683.3,1977.6 686.2,1977.9 690.0,1978.8C693.8,1979.6 698.3,1981.6 702.5,1982.5C706.7,1983.4 710.8,1984.0 715.0,1984.2C719.2,1984.5 723.3,1984.2 727.5,1984.2C731.7,1984.3 736.2,1984.0 740.0,1984.5C743.8,1985.0 746.7,1986.2 750.0,1987.5C753.3,1988.8 756.7,1990.8 760.0,1992.5C763.3,1994.2 766.7,1996.3 770.0,1998.0C773.3,1999.7 776.7,2001.2 780.0,2002.5C783.3,2003.8 786.2,2004.6 790.0,2005.5C793.8,2006.4 797.5,2007.3 802.5,2008.0C807.5,2008.7 811.2,2009.2 820.0,2009.5C828.8,2009.8 836.7,2009.8 855.0,2010.0C873.3,2010.2 911.2,2010.6 930.0,2010.8C948.8,2010.9 961.7,2011.0 968.0,2011.0" fill="none" stroke="#000" stroke-width="2.9" stroke-linejoin="round" />
</g>
<g clip-path="url(#cb)">
<path d="M151.6,795.5L152.6,793.6L153.6,785.6L154.6,783.0L155.6,776.3L156.6,772.0L157.6,779.7L158.6,773.2L159.6,780.3L160.6,759.3L161.6,758.8L162.6,757.2L163.6,756.3L164.6,757.5L165.6,741.5L166.6,755.6L167.6,742.0L168.6,750.4L169.6,770.1L170.6,750.0L171.6,748.7L172.6,754.8L173.6,752.0L174.6,746.0L175.6,770.7L176.6,750.6L177.6,760.2L178.6,752.0L179.6,764.3L180.6,761.7L181.6,764.0L182.6,763.7L183.6,765.8L184.6,767.3L185.6,767.1L186.6,764.1L187.6,773.1L188.6,780.4L189.6,777.8L190.6,779.2L191.6,787.5L192.6,776.8L193.6,782.1L194.6,788.4L195.6,799.2L196.6,797.2L197.6,789.3L198.6,785.2L199.6,799.2L200.6,798.8L201.6,792.0L202.6,803.3L203.6,789.8L204.6,797.2L205.6,813.9L206.6,800.6L207.6,807.7L208.6,796.6L209.6,818.5L210.6,809.2L211.6,831.0L212.6,822.0L213.6,819.9L214.6,832.9L215.6,828.3L216.6,834.0L217.6,817.6L218.6,825.6L219.6,836.3L220.6,830.9L221.6,832.4L222.6,836.3L223.6,834.5L224.6,837.2L225.6,847.4L226.6,840.0L227.6,843.5L228.6,844.3L229.6,837.9L230.6,832.8L231.6,838.0L232.6,847.9L233.6,853.4L234.6,851.5L235.6,848.8L236.6,842.6L237.6,846.5L238.6,857.5L239.6,845.0L240.6,857.2L241.6,850.4L242.6,851.1L243.6,860.8L244.6,858.8L245.6,855.6L246.6,852.3L247.6,849.3L248.6,860.9L249.6,864.2L250.6,859.8L251.6,857.4L252.6,854.5L253.6,859.8L254.6,860.9L255.6,861.3L256.6,863.4L257.6,852.2L258.6,864.7L259.6,863.0L260.6,866.2L261.6,865.1L262.6,858.9L263.6,865.6L264.6,866.2L265.6,859.7L266.6,851.8L267.6,859.2L268.6,863.9L269.6,859.2L270.6,859.3L271.6,868.1L272.6,862.7L273.6,864.3L274.6,862.5L275.6,858.9L276.6,871.1L277.6,862.8L278.6,864.1L279.6,864.8L280.6,865.1L281.6,859.5L282.6,859.3L283.6,863.0L284.6,861.5L285.6,869.4L286.6,864.7L287.6,863.8L288.6,868.6L289.6,858.9L290.6,859.7L291.6,866.4L292.6,863.8L293.6,868.4L294.6,868.7L295.6,861.0L296.6,869.4L297.6,870.2L298.6,863.9L299.6,864.4L300.6,857.8L301.6,868.4L302.6,875.8L303.6,858.8L304.6,864.9L305.6,869.5L306.6,863.9L307.6,860.0L308.6,863.7L309.6,868.3L310.6,866.4L311.6,864.1L312.6,875.2L313.6,861.4L314.6,868.0L315.6,873.9L316.6,867.4L317.6,870.3L318.6,875.0L319.6,866.2L320.6,865.8L321.6,868.5L322.6,874.4L323.6,872.8L324.6,879.2L325.6,868.2L326.6,869.8L327.6,870.5L328.6,870.9L329.6,865.2L330.6,876.7L331.6,871.6L332.6,870.8L333.6,882.4L334.6,870.1L335.6,876.4L336.6,876.7L337.6,869.6L338.6,874.3L339.6,876.0L340.6,872.4L341.6,875.5L342.6,877.7L343.6,871.0L344.6,880.0L345.6,879.2L346.6,879.4L347.6,871.2L348.6,875.3L349.6,874.0L350.6,876.5L351.6,873.9L352.6,873.7L353.6,880.5L354.6,876.4L355.6,882.8L356.6,877.9L357.6,884.0L358.6,897.3L359.6,882.6L360.6,890.1L361.6,885.8L362.6,880.1L363.6,875.9L364.6,889.4L365.6,881.9L366.6,877.5L367.6,879.5L368.6,887.3L369.6,888.6L370.6,889.9L371.6,883.6L372.6,887.3L373.6,890.5L374.6,892.3L375.6,891.6L376.6,889.1L377.6,882.7L378.6,892.2L379.6,885.8L380.6,890.0L381.6,888.3L382.6,882.9L383.6,891.0L384.6,887.0L385.6,890.9L386.6,891.9L387.6,889.6L388.6,883.7L389.6,888.2L390.6,889.6L391.6,892.4L392.6,902.9L393.6,895.0L394.6,889.2L395.6,891.0L396.6,886.5L397.6,893.6L398.6,892.4L399.6,898.5L400.6,894.7L401.6,895.8L402.6,905.5L403.6,891.8L404.6,890.2L405.6,901.7L406.6,895.4L407.6,896.6L408.6,895.7L409.6,895.7L410.6,900.7L411.6,894.8L412.6,897.9L413.6,891.5L414.6,895.1L415.6,903.3L416.6,896.8L417.6,891.0L418.6,893.0L419.6,900.2L420.6,901.9L421.6,896.6L422.6,896.9L423.6,892.1L424.6,897.2L425.6,895.1L426.6,893.7L427.6,898.4L428.6,899.5L429.6,903.1L430.6,905.3L431.6,899.1L432.6,897.8L433.6,908.2L434.6,903.9L435.6,903.0L436.6,899.2L437.6,899.0L438.6,895.0L439.6,898.3L440.6,898.8L441.6,900.7L442.6,901.7L443.6,894.1L444.6,902.8L445.6,896.4L446.6,898.2L447.6,911.7L448.6,900.4L449.6,907.8L450.6,906.8L451.6,898.3L452.6,903.4L453.6,895.3L454.6,897.1L455.6,900.7L456.6,913.2L457.6,902.1L458.6,901.0L459.6,899.1L460.6,899.1L461.6,906.4L462.6,904.0L463.6,896.9L464.6,904.1L465.6,900.1L466.6,891.7L467.6,902.5L468.6,894.3L469.6,897.0L470.6,901.5L471.6,892.1L472.6,888.6L473.6,899.3L474.6,889.3L475.6,906.8L476.6,904.3L477.6,894.2L478.6,896.7L479.6,898.9L480.6,896.7L481.6,901.6L482.6,900.0L483.6,897.4L484.6,900.2L485.6,896.1L486.6,899.1L487.6,906.6L488.6,891.9L489.6,898.2L490.6,893.1L491.6,905.3L492.6,892.6L493.6,893.4L494.6,899.3L495.6,897.9L496.6,901.2L497.6,898.6L498.6,890.5L499.6,899.5L500.6,892.6L501.6,889.3L502.6,893.2L503.6,895.1L504.6,892.9L505.6,895.9L506.6,895.0L507.6,899.4L508.6,897.0L509.6,891.6L510.6,890.7L511.6,885.7L512.6,892.0L513.6,899.5L514.6,891.4L515.6,891.3L516.6,885.4L517.6,895.3L518.6,886.1L519.6,896.6L520.6,883.5L521.6,884.5L522.6,890.2L523.6,888.9L524.6,892.1L525.6,888.7L526.6,892.4L527.6,887.2L528.6,901.6L529.6,894.8L530.6,894.0L531.6,894.1L532.6,891.2L533.6,891.2L534.6,889.4L535.6,889.4L536.6,895.6L537.6,889.7L538.6,891.4L539.6,885.7L540.6,892.9L541.6,886.8L542.6,896.6L543.6,876.2L544.6,883.5L545.6,897.0L546.6,889.7L547.6,880.8L548.6,885.0L549.6,882.8L550.6,882.6L551.6,879.6L552.6,890.9L553.6,886.2L554.6,886.8L555.6,888.2L556.6,880.0L557.6,883.3L558.6,889.6L559.6,892.5L560.6,883.5L561.6,886.7L562.7,885.1L563.7,877.7L564.7,883.7L565.7,885.6L566.7,879.6L567.7,884.7L568.7,881.7L569.7,876.9L570.7,881.1L571.7,881.2L572.7,886.9L573.7,874.9L574.7,884.5L575.7,886.9L576.7,886.0L577.7,888.8L578.7,876.3L579.7,882.3L580.7,879.7L581.7,900.1L582.7,885.1L583.7,881.1L584.7,881.9L585.7,883.9L586.7,890.6L587.7,886.3L588.7,890.7L589.7,894.4L590.7,886.1L591.7,890.5L592.7,888.2L593.7,887.5L594.7,884.6L595.7,897.3L596.7,888.3L597.7,897.3L598.7,899.3L599.7,903.3L600.7,896.7L601.7,901.9L602.7,892.0L603.7,902.7L604.7,905.6L605.7,916.3L606.7,907.0L607.7,914.6L608.7,911.8L609.7,917.0L610.7,917.7L611.7,919.4L612.7,910.7L613.7,924.9L614.7,916.8L615.7,928.0L616.7,930.9L617.7,923.3L618.7,916.8L619.7,926.2L620.7,927.6L621.7,924.1L622.7,929.3L623.7,930.7L624.7,940.9L625.7,945.5L626.7,948.0L627.7,936.1L628.7,939.7L629.7,945.6L630.7,936.5L631.7,941.5L632.7,956.9L633.7,947.8L634.7,943.7L635.7,951.0L636.7,948.7L637.7,945.8L638.7,944.6L639.7,943.2L640.7,956.9L641.7,950.5L642.7,954.2L643.7,944.5L644.7,945.6L645.7,941.8L646.7,943.5L647.7,943.1L648.7,940.8L649.7,936.7L650.7,942.2L651.7,940.1L652.7,928.7L653.7,942.4L654.7,925.5L655.7,922.1L656.7,926.8L657.7,918.9L658.7,933.5L659.7,924.9L660.7,913.0L661.7,923.5L662.7,916.9L663.7,924.5L664.7,922.8L665.7,925.2L666.7,918.1L667.7,911.7L668.7,917.5L669.7,923.2L670.7,901.2L671.7,898.5L672.7,911.1L673.7,893.5L674.7,898.4L675.7,907.2L676.7,908.8L677.7,899.6L678.7,903.0L679.7,905.2L680.7,889.1L681.7,892.8L682.7,892.3L683.7,889.6L684.7,897.3L685.7,886.1L686.7,889.6L687.7,891.0L688.7,884.8L689.7,882.7L690.7,886.0L691.7,887.0L692.7,891.6L693.7,885.6L694.7,883.1L695.7,891.1L696.7,874.1L697.7,875.8L698.7,866.9L699.7,880.1L700.7,883.6L701.7,879.9L702.7,881.4L703.7,871.0L704.7,882.7L705.7,876.6L706.7,880.4L707.7,873.6L708.7,882.8L709.7,867.3L710.7,876.2L711.7,869.1L712.7,869.8L713.7,876.3L714.7,874.3L715.7,869.9L716.7,878.2L717.7,872.0L718.7,869.9L719.7,859.3L720.7,878.4L721.7,860.8L722.7,865.6L723.7,869.7L724.7,860.7L725.7,864.6L726.7,860.5L727.7,867.6L728.7,863.0L729.7,856.6L730.7,869.9L731.7,866.5L732.7,872.7L733.7,863.9L734.7,865.4L735.7,854.1L736.7,859.7L737.7,872.3L738.7,865.9L739.7,864.2L740.7,876.0L741.7,858.1L742.7,861.9L743.7,868.4L744.7,869.5L745.7,859.9L746.7,860.3L747.7,875.5L748.7,871.9L749.7,871.1L750.7,874.2L751.7,872.2L752.7,868.8L753.7,868.3L754.7,866.3L755.7,870.3L756.7,866.6L757.7,871.5L758.7,868.3L759.7,863.1L760.7,870.7L761.7,888.1L762.7,872.1L763.7,868.3L764.7,872.6L765.7,853.5L766.7,871.5L767.7,876.8L768.7,867.1L769.7,866.9L770.7,866.5L771.7,874.0L772.7,862.0L773.7,858.8L774.7,876.4L775.7,870.0L776.7,874.6L777.7,871.1L778.7,872.7L779.7,866.5L780.7,875.7L781.7,872.1L782.7,865.9L783.7,867.1L784.7,860.1L785.7,871.6L786.7,874.2L787.7,868.5L788.7,864.6L789.7,875.5L790.7,867.4L791.7,871.0L792.7,869.2L793.7,882.0L794.7,877.0L795.7,868.0L796.7,870.0L797.7,874.0L798.7,871.3L799.7,867.7L800.7,877.0L801.7,869.1L802.7,865.6L803.7,873.4L804.7,874.4L805.7,865.2L806.7,874.6L807.7,869.3L808.7,877.1L809.7,880.6L810.7,872.6L811.7,876.9L812.7,870.4L813.7,873.5L814.7,881.7L815.7,874.9L816.7,867.7L817.7,865.3L818.7,874.6L819.7,867.8L820.7,878.9L821.7,865.2L822.7,876.4L823.7,872.0L824.7,875.0L825.7,877.4L826.7,879.6L827.7,871.6L828.7,870.6L829.7,878.8L830.7,874.9L831.7,865.3L832.7,868.1L833.7,878.8L834.7,873.3L835.7,871.5L836.7,883.0L837.7,859.0L838.7,860.6L839.7,884.1L840.7,868.1L841.7,866.2L842.7,876.6L843.7,877.8L844.7,867.8L845.7,878.4L846.7,879.3L847.7,876.9L848.7,872.2L849.7,869.2L850.7,868.0L851.7,868.6L852.7,876.3L853.7,863.1L854.7,870.0L855.7,879.6L856.7,871.8L857.7,868.6L858.7,884.1L859.7,886.8L860.7,870.2L861.7,863.7L862.7,874.0L863.7,873.4L864.7,864.2L865.7,871.4L866.7,877.8L867.7,876.3L868.7,874.8L869.7,880.0L870.7,879.2L871.7,881.8L872.7,886.8L873.7,873.7L874.7,883.0L875.7,872.8L876.7,868.5L877.7,867.7L878.7,885.3L879.7,867.1L880.7,871.1L881.7,881.0L882.7,862.5L883.7,871.8L884.7,866.8L885.7,859.0L886.7,865.4L887.7,871.7L888.7,867.4L889.7,895.7L890.7,865.6L891.7,876.6L892.7,876.6L893.7,879.0L894.7,875.0L895.7,866.8L896.7,873.1L897.7,880.0L898.7,861.7L899.7,866.0L900.7,867.0L901.7,872.5L902.7,866.9L903.7,877.7L904.7,879.4L905.7,872.4L906.7,876.8L907.7,872.5L908.7,874.8L909.7,877.9L910.7,885.5L911.7,879.5L912.7,877.8L913.7,881.4L914.7,879.5L915.7,881.9L916.7,892.2L917.7,880.2L918.7,870.3L919.7,871.7L920.7,868.7L921.7,894.3L922.7,859.2L923.7,876.8L924.7,873.4L925.7,880.5L926.7,880.4L927.7,872.9L928.7,887.2L929.7,879.7L930.7,878.4L931.7,882.1L932.7,866.5L933.7,885.2L934.7,867.2L935.7,886.7L936.7,876.8L937.7,880.7L938.7,878.4L939.7,873.7L940.7,884.4L941.7,872.2L942.7,888.1L943.7,885.5L944.7,876.0L945.7,879.7L946.7,874.6L947.7,877.9L948.7,875.6L949.7,872.1L950.7,886.7L951.7,874.2L952.7,883.7L953.7,884.2L954.7,895.1L955.7,897.5L956.7,893.9L957.7,880.4L958.7,886.6L959.7,876.6L960.7,889.8L961.7,880.7L962.7,884.1L963.7,871.8L964.7,870.9L965.7,864.1L966.7,865.2L967.7,865.9L968.7,875.7L969.7,872.6L970.7,867.5L971.7,871.1" fill="none" stroke="#1a1a1a" stroke-width="1.0" stroke-linejoin="round" />
<path d="M151.6,1145.7L152.6,1135.7L153.6,1131.0L154.6,1126.7L155.6,1123.6L156.6,1120.4L157.6,1117.4L158.6,1112.5L159.6,1101.7L160.6,1105.4L161.6,1104.8L162.6,1095.1L163.6,1105.0L164.6,1098.4L165.6,1091.8L166.6,1094.6L167.6,1089.6L168.6,1098.4L169.6,1094.9L170.6,1094.2L171.6,1097.9L172.6,1093.6L173.6,1100.5L174.6,1097.7L175.6,1094.6L176.6,1101.4L177.6,1098.6L178.6,1091.6L179.6,1099.9L180.6,1091.1L181.6,1088.7L182.6,1097.0L183.6,1107.8L184.6,1113.8L185.6,1112.1L186.6,1105.6L187.6,1109.7L188.6,1095.5L189.6,1108.4L190.6,1105.4L191.6,1112.4L192.6,1115.3L193.6,1126.5L194.6,1112.2L195.6,1116.2L196.6,1120.6L197.6,1123.0L198.6,1130.3L199.6,1121.1L200.6,1137.7L201.6,1128.8L202.6,1127.8L203.6,1132.0L204.6,1133.4L205.6,1138.9L206.6,1133.5L207.6,1147.0L208.6,1147.6L209.6,1146.8L210.6,1143.3L211.6,1142.3L212.6,1147.1L213.6,1145.7L214.6,1153.8L215.6,1147.6L216.6,1160.7L217.6,1158.2L218.6,1164.2L219.6,1156.9L220.6,1160.7L221.6,1158.7L222.6,1156.6L223.6,1159.9L224.6,1173.1L225.6,1168.1L226.6,1161.5L227.6,1163.4L228.6,1164.9L229.6,1164.3L230.6,1179.3L231.6,1162.4L232.6,1174.1L233.6,1170.8L234.6,1175.0L235.6,1171.5L236.6,1181.2L237.6,1171.4L238.6,1174.6L239.6,1176.7L240.6,1172.7L241.6,1181.5L242.6,1175.6L243.6,1176.1L244.6,1181.0L245.6,1183.2L246.6,1181.6L247.6,1178.0L248.6,1180.3L249.6,1184.4L250.6,1189.1L251.6,1185.3L252.6,1180.7L253.6,1174.2L254.6,1181.8L255.6,1183.2L256.6,1176.2L257.6,1182.6L258.6,1183.0L259.6,1178.8L260.6,1183.7L261.6,1185.0L262.6,1179.2L263.6,1182.4L264.6,1173.8L265.6,1194.4L266.6,1181.9L267.6,1184.5L268.6,1176.0L269.6,1182.5L270.6,1177.0L271.6,1182.6L272.6,1184.6L273.6,1186.2L274.6,1179.1L275.6,1181.6L276.6,1189.5L277.6,1186.3L278.6,1179.4L279.6,1181.1L280.6,1181.2L281.6,1190.1L282.6,1183.7L283.6,1186.6L284.6,1181.2L285.6,1188.6L286.6,1185.7L287.6,1183.5L288.6,1179.5L289.6,1184.3L290.6,1184.8L291.6,1183.9L292.6,1185.6L293.6,1189.9L294.6,1191.2L295.6,1187.0L296.6,1181.8L297.6,1181.3L298.6,1196.9L299.6,1183.2L300.6,1188.7L301.6,1189.6L302.6,1188.9L303.6,1191.2L304.6,1188.3L305.6,1189.0L306.6,1188.5L307.6,1196.3L308.6,1195.6L309.6,1192.9L310.6,1185.2L311.6,1188.4L312.6,1191.7L313.6,1187.2L314.6,1185.9L315.6,1192.5L316.6,1191.4L317.6,1193.5L318.6,1194.9L319.6,1193.8L320.6,1194.0L321.6,1189.5L322.6,1192.3L323.6,1199.4L324.6,1200.6L325.6,1186.7L326.6,1195.0L327.6,1199.0L328.6,1198.0L329.6,1197.9L330.6,1194.5L331.6,1198.5L332.6,1199.2L333.6,1194.6L334.6,1195.3L335.6,1193.5L336.6,1198.1L337.6,1201.5L338.6,1192.2L339.6,1202.6L340.6,1194.4L341.6,1203.8L342.6,1204.2L343.6,1189.7L344.6,1201.4L345.6,1201.9L346.6,1206.0L347.6,1205.3L348.6,1207.2L349.6,1193.1L350.6,1196.9L351.6,1207.0L352.6,1208.6L353.6,1203.5L354.6,1205.6L355.6,1205.2L356.6,1201.5L357.6,1209.9L358.6,1209.1L359.6,1202.3L360.6,1210.9L361.6,1211.7L362.6,1220.1L363.6,1213.1L364.6,1203.8L365.6,1208.8L366.6,1203.1L367.6,1215.7L368.6,1208.8L369.6,1209.6L370.6,1216.1L371.6,1208.1L372.6,1208.0L373.6,1207.2L374.6,1216.7L375.6,1211.3L376.6,1215.5L377.6,1213.4L378.6,1215.8L379.6,1220.8L380.6,1211.8L381.6,1215.0L382.6,1217.6L383.6,1220.2L384.6,1215.9L385.6,1221.3L386.6,1220.0L387.6,1226.9L388.6,1212.7L389.6,1220.0L390.6,1217.8L391.6,1217.8L392.6,1214.9L393.6,1219.5L394.6,1217.9L395.6,1219.6L396.6,1217.4L397.6,1222.6L398.6,1222.4L399.6,1224.5L400.6,1223.4L401.6,1219.9L402.6,1215.7L403.6,1224.3L404.6,1214.9L405.6,1219.5L406.6,1225.3L407.6,1219.8L408.6,1213.2L409.6,1220.2L410.6,1220.2L411.6,1227.9L412.6,1217.4L413.6,1225.9L414.6,1217.8L415.6,1225.6L416.6,1218.3L417.6,1216.3L418.6,1218.7L419.6,1219.9L420.6,1222.1L421.6,1223.1L422.6,1220.8L423.6,1227.0L424.6,1223.0L425.6,1226.4L426.6,1230.1L427.6,1221.2L428.6,1221.0L429.6,1224.8L430.6,1226.1L431.6,1221.3L432.6,1223.0L433.6,1216.9L434.6,1229.0L435.6,1222.3L436.6,1228.6L437.6,1226.7L438.6,1222.4L439.6,1227.0L440.6,1226.4L441.6,1226.2L442.6,1226.5L443.6,1220.5L444.6,1225.5L445.6,1234.6L446.6,1227.2L447.6,1216.9L448.6,1220.3L449.6,1223.9L450.6,1230.9L451.6,1231.0L452.6,1224.9L453.6,1230.5L454.6,1220.4L455.6,1228.8L456.6,1219.5L457.6,1232.6L458.6,1226.3L459.6,1227.9L460.6,1230.5L461.6,1230.5L462.6,1225.0L463.6,1230.5L464.6,1226.7L465.6,1229.1L466.6,1232.7L467.6,1227.4L468.6,1228.1L469.6,1234.6L470.6,1232.7L471.6,1229.4L472.6,1226.1L473.6,1228.0L474.6,1218.8L475.6,1223.6L476.6,1234.3L477.6,1232.7L478.6,1223.2L479.6,1232.2L480.6,1231.6L481.6,1223.0L482.6,1224.8L483.6,1216.4L484.6,1227.0L485.6,1223.9L486.6,1221.6L487.6,1225.6L488.6,1219.5L489.6,1217.7L490.6,1224.5L491.6,1219.2L492.6,1228.3L493.6,1220.9L494.6,1217.0L495.6,1218.0L496.6,1220.1L497.6,1222.5L498.6,1223.9L499.6,1222.3L500.6,1217.6L501.6,1222.8L502.6,1225.7L503.6,1219.8L504.6,1217.9L505.6,1222.7L506.6,1219.6L507.6,1218.5L508.6,1224.4L509.6,1219.1L510.6,1215.6L511.6,1217.6L512.6,1217.9L513.6,1220.4L514.6,1213.8L515.6,1219.2L516.6,1219.3L517.6,1224.0L518.6,1221.9L519.6,1217.5L520.6,1217.3L521.6,1217.1L522.6,1213.6L523.6,1218.7L524.6,1213.7L525.6,1217.3L526.6,1210.6L527.6,1215.4L528.6,1219.0L529.6,1220.0L530.6,1219.0L531.6,1214.8L532.6,1214.6L533.6,1215.6L534.6,1203.9L535.6,1214.6L536.6,1218.1L537.6,1211.8L538.6,1212.8L539.6,1214.4L540.6,1216.6L541.6,1208.1L542.6,1214.9L543.6,1207.7L544.6,1222.4L545.6,1219.0L546.6,1210.4L547.6,1214.8L548.6,1208.0L549.6,1210.2L550.6,1208.1L551.6,1214.2L552.6,1212.0L553.6,1212.2L554.6,1212.6L555.6,1217.2L556.6,1207.6L557.6,1216.0L558.6,1219.8L559.6,1213.3L560.6,1215.9L561.6,1211.5L562.7,1215.6L563.7,1213.8L564.7,1212.2L565.7,1214.7L566.7,1212.6L567.7,1218.4L568.7,1217.7L569.7,1214.5L570.7,1218.3L571.7,1216.8L572.7,1221.3L573.7,1218.7L574.7,1218.4L575.7,1215.2L576.7,1215.1L577.7,1222.7L578.7,1210.7L579.7,1220.3L580.7,1214.9L581.7,1226.0L582.7,1217.7L583.7,1215.4L584.7,1220.0L585.7,1224.3L586.7,1227.6L587.7,1222.5L588.7,1225.0L589.7,1229.8L590.7,1225.7L591.7,1221.5L592.7,1225.5L593.7,1231.2L594.7,1227.8L595.7,1229.4L596.7,1236.5L597.7,1229.7L598.7,1232.5L599.7,1233.6L600.7,1229.5L601.7,1237.6L602.7,1232.3L603.7,1238.8L604.7,1236.0L605.7,1241.0L606.7,1230.1L607.7,1242.1L608.7,1244.0L609.7,1241.7L610.7,1249.7L611.7,1246.1L612.7,1242.4L613.7,1248.3L614.7,1250.5L615.7,1256.5L616.7,1253.9L617.7,1259.3L618.7,1256.2L619.7,1266.8L620.7,1266.0L621.7,1263.4L622.7,1250.7L623.7,1257.8L624.7,1259.2L625.7,1267.5L626.7,1262.8L627.7,1277.8L628.7,1272.9L629.7,1278.5L630.7,1270.5L631.7,1265.3L632.7,1273.9L633.7,1280.5L634.7,1272.2L635.7,1275.2L636.7,1272.3L637.7,1278.5L638.7,1279.7L639.7,1281.1L640.7,1272.4L641.7,1275.0L642.7,1268.7L643.7,1273.2L644.7,1274.1L645.7,1272.4L646.7,1278.6L647.7,1266.2L648.7,1274.0L649.7,1274.5L650.7,1271.2L651.7,1253.1L652.7,1270.8L653.7,1271.7L654.7,1272.9L655.7,1262.7L656.7,1262.2L657.7,1255.1L658.7,1247.6L659.7,1263.8L660.7,1262.4L661.7,1248.5L662.7,1253.2L663.7,1250.6L664.7,1255.1L665.7,1256.7L666.7,1252.5L667.7,1249.0L668.7,1233.9L669.7,1245.1L670.7,1233.5L671.7,1237.3L672.7,1242.3L673.7,1230.0L674.7,1234.9L675.7,1238.0L676.7,1233.8L677.7,1234.6L678.7,1224.8L679.7,1238.0L680.7,1233.0L681.7,1224.9L682.7,1234.6L683.7,1221.9L684.7,1228.5L685.7,1227.3L686.7,1227.3L687.7,1226.5L688.7,1229.9L689.7,1218.6L690.7,1220.1L691.7,1207.0L692.7,1222.4L693.7,1214.4L694.7,1219.8L695.7,1215.8L696.7,1215.0L697.7,1211.2L698.7,1211.2L699.7,1217.2L700.7,1210.9L701.7,1208.8L702.7,1206.8L703.7,1207.5L704.7,1208.5L705.7,1206.3L706.7,1214.3L707.7,1211.8L708.7,1212.9L709.7,1202.8L710.7,1196.1L711.7,1206.8L712.7,1211.0L713.7,1212.6L714.7,1204.1L715.7,1203.9L716.7,1198.8L717.7,1207.4L718.7,1193.1L719.7,1200.6L720.7,1201.6L721.7,1193.3L722.7,1198.2L723.7,1205.4L724.7,1195.3L725.7,1202.9L726.7,1193.6L727.7,1203.7L728.7,1205.5L729.7,1200.8L730.7,1205.1L731.7,1200.4L732.7,1187.5L733.7,1185.2L734.7,1202.2L735.7,1186.7L736.7,1196.4L737.7,1195.3L738.7,1193.9L739.7,1204.9L740.7,1191.0L741.7,1191.3L742.7,1189.2L743.7,1183.4L744.7,1190.3L745.7,1196.2L746.7,1195.3L747.7,1191.0L748.7,1198.5L749.7,1189.7L750.7,1198.8L751.7,1198.7L752.7,1195.5L753.7,1192.7L754.7,1185.8L755.7,1196.7L756.7,1189.2L757.7,1199.0L758.7,1188.1L759.7,1185.0L760.7,1203.9L761.7,1183.1L762.7,1194.3L763.7,1204.0L764.7,1194.0L765.7,1195.3L766.7,1198.0L767.7,1185.4L768.7,1194.3L769.7,1190.4L770.7,1184.7L771.7,1192.8L772.7,1194.9L773.7,1204.0L774.7,1192.7L775.7,1188.0L776.7,1199.0L777.7,1193.4L778.7,1189.7L779.7,1196.2L780.7,1187.8L781.7,1190.6L782.7,1199.5L783.7,1190.9L784.7,1192.5L785.7,1191.8L786.7,1199.1L787.7,1197.0L788.7,1197.7L789.7,1185.2L790.7,1203.2L791.7,1187.2L792.7,1183.8L793.7,1210.7L794.7,1196.1L795.7,1212.3L796.7,1190.9L797.7,1188.3L798.7,1191.1L799.7,1201.8L800.7,1196.1L801.7,1203.6L802.7,1187.1L803.7,1189.1L804.7,1197.1L805.7,1195.0L806.7,1196.3L807.7,1194.3L808.7,1195.5L809.7,1197.4L810.7,1178.7L811.7,1189.8L812.7,1199.2L813.7,1196.9L814.7,1195.6L815.7,1207.0L816.7,1187.8L817.7,1196.9L818.7,1200.4L819.7,1199.1L820.7,1189.2L821.7,1191.5L822.7,1196.7L823.7,1211.5L824.7,1197.0L825.7,1186.1L826.7,1203.9L827.7,1193.6L828.7,1193.5L829.7,1211.8L830.7,1198.8L831.7,1198.8L832.7,1210.0L833.7,1192.1L834.7,1204.9L835.7,1195.2L836.7,1214.0L837.7,1210.6L838.7,1193.4L839.7,1198.5L840.7,1202.6L841.7,1193.6L842.7,1195.1L843.7,1196.2L844.7,1207.6L845.7,1198.4L846.7,1198.3L847.7,1195.2L848.7,1203.1L849.7,1198.2L850.7,1209.9L851.7,1191.1L852.7,1205.5L853.7,1198.8L854.7,1199.9L855.7,1203.3L856.7,1195.0L857.7,1200.8L858.7,1196.7L859.7,1192.4L860.7,1198.2L861.7,1186.6L862.7,1197.9L863.7,1198.4L864.7,1196.6L865.7,1189.1L866.7,1197.3L867.7,1198.3L868.7,1202.2L869.7,1188.2L870.7,1198.3L871.7,1197.7L872.7,1188.0L873.7,1192.1L874.7,1200.0L875.7,1201.7L876.7,1195.2L877.7,1194.9L878.7,1212.3L879.7,1193.4L880.7,1198.4L881.7,1194.5L882.7,1195.7L883.7,1192.6L884.7,1198.5L885.7,1201.0L886.7,1192.1L887.7,1199.8L888.7,1198.6L889.7,1190.7L890.7,1212.9L891.7,1205.5L892.7,1200.2L893.7,1193.9L894.7,1186.4L895.7,1203.7L896.7,1199.2L897.7,1207.8L898.7,1202.9L899.7,1206.3L900.7,1205.6L901.7,1203.9L902.7,1208.3L903.7,1201.0L904.7,1201.0L905.7,1194.8L906.7,1207.5L907.7,1208.3L908.7,1185.8L909.7,1199.8L910.7,1210.4L911.7,1197.9L912.7,1198.6L913.7,1195.6L914.7,1195.6L915.7,1193.7L916.7,1201.5L917.7,1202.4L918.7,1210.0L919.7,1198.3L920.7,1203.4L921.7,1207.0L922.7,1198.8L923.7,1213.2L924.7,1193.3L925.7,1199.2L926.7,1205.7L927.7,1191.2L928.7,1216.1L929.7,1201.9L930.7,1200.3L931.7,1204.6L932.7,1206.2L933.7,1205.6L934.7,1210.3L935.7,1194.9L936.7,1212.6L937.7,1203.3L938.7,1203.4L939.7,1210.3L940.7,1206.4L941.7,1198.3L942.7,1199.5L943.7,1202.9L944.7,1208.7L945.7,1191.1L946.7,1208.1L947.7,1203.2L948.7,1203.3L949.7,1198.1L950.7,1205.0L951.7,1211.9L952.7,1204.3L953.7,1208.6L954.7,1214.5L955.7,1197.4L956.7,1215.9L957.7,1204.7L958.7,1211.6L959.7,1203.5L960.7,1212.8L961.7,1206.2L962.7,1196.3L963.7,1214.2L964.7,1190.6L965.7,1198.3L966.7,1190.2L967.7,1190.7L968.7,1207.5L969.7,1183.2L970.7,1196.0L971.7,1198.2" fill="none" stroke="#1a1a1a" stroke-width="1.0" stroke-linejoin="round" />
</g>
</svg>
</body></html>
